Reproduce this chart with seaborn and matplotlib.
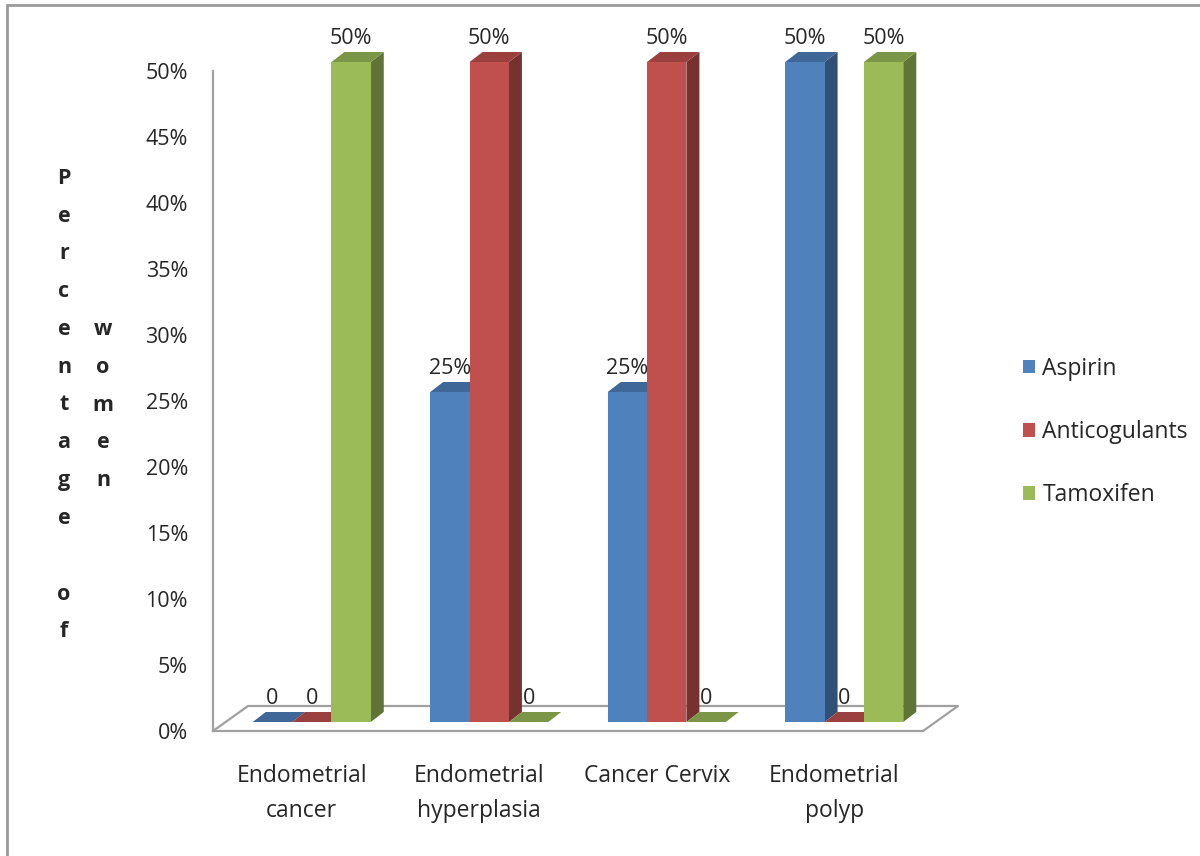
import matplotlib
matplotlib.use("Agg")
import matplotlib.pyplot as plt
import seaborn as sns
import pandas as pd
import numpy as np
import matplotlib.colors as mcolors
from matplotlib.patches import Polygon, Rectangle
from matplotlib.transforms import ScaledTranslation

categories = ["Endometrial\ncancer", "Endometrial\nhyperplasia", "Cancer Cervix", "Endometrial\npolyp"]
drugs = ["Aspirin", "Anticogulants", "Tamoxifen"]
aspirin = [0, 25, 25, 50]
anticogulants = [0, 50, 50, 0]
tamoxifen = [50, 0, 0, 50]
yticks = [0, 5, 10, 15, 20, 25, 30, 35, 40, 45, 50]
colors = ["#4F81BD", "#C0504D", "#9BBB59"]

df = pd.DataFrame({
    "category": categories * 3,
    "drug": np.repeat(drugs, len(categories)),
    "value": aspirin + anticogulants + tamoxifen,
})

sns.set_style("white")
plt.rcParams["font.family"] = ["Open Sans", "DejaVu Sans"]
FS = 15.5      # numbers
FS_TXT = 16.5  # words
GRAY = "#A0A0A0"

fig = plt.figure(figsize=(12, 8.56), dpi=100)
ax = fig.add_axes([213 / 1200, 1 - 731 / 856, (923 - 213) / 1200, (731 - 71) / 856])

sns.barplot(data=df, x="category", y="value", hue="drug", palette=colors,
            width=0.665, saturation=1, errorbar=None, legend=False,
            linewidth=0, ax=ax)
ax.set_xlim(-0.5, 3.5)
ax.set_ylim(0, 50)

# pixel -> data scale
p0 = ax.transData.transform((0, 0))
p1 = ax.transData.transform((1, 1))
sx, sy = p1[0] - p0[0], p1[1] - p0[1]

# bars sit a little inside the floor; 3d depth of each bar
shift = ScaledTranslation(10 / 100, 9 / 100, fig.dpi_scale_trans)
dx, dy = 13 / sx, 10 / sy
tr = ax.transData + shift


def shade(c, f):
    r, g, b = mcolors.to_rgb(c)
    return (r * f, g * f, b * f)


bars = sorted(ax.patches, key=lambda p: p.get_x())
for i, p in enumerate(bars):
    x0, w, h = p.get_x(), p.get_width(), p.get_height()
    c = p.get_facecolor()
    z = 3 + i * 0.01
    p.set_transform(tr)
    p.set_zorder(z)
    p.set_clip_on(False)
    side = Polygon([(x0 + w, 0), (x0 + w + dx, dy), (x0 + w + dx, h + dy), (x0 + w, h)],
                   closed=True, facecolor=shade(c, 0.62), edgecolor="none",
                   transform=tr, zorder=z - 0.001, clip_on=False)
    top = Polygon([(x0, h), (x0 + dx, h + dy), (x0 + w + dx, h + dy), (x0 + w, h)],
                  closed=True, facecolor=shade(c, 0.8), edgecolor="none",
                  transform=tr, zorder=z - 0.001, clip_on=False)
    ax.add_patch(side)
    ax.add_patch(top)
    lab = f"{h:.0f}%" if h > 0 else "0"
    ax.annotate(lab, (x0 + w / 2, h), xytext=(10 * 0.72, 33 * 0.72),
                textcoords="offset points", ha="center", va="center",
                fontsize=FS, zorder=10, annotation_clip=False)

# floor
fx, fy = 35 / sx, 25 / sy
ax.plot([-0.5, -0.5 + fx, 3.5 + fx, 3.5], [0, fy, fy, 0], color=GRAY, lw=1.6,
        clip_on=False, zorder=1.5)

sns.despine(ax=ax)
for s in ["left", "bottom"]:
    ax.spines[s].set_color(GRAY)
    ax.spines[s].set_linewidth(1.6)

ax.set_xlabel("")
ax.set_ylabel("")
ax.set_xticks(range(len(categories)))
ax.set_xticklabels(categories, fontsize=FS_TXT, linespacing=1.6)
ax.set_xticks(np.arange(-0.5, len(categories), 1), minor=True)
ax.tick_params(axis="x", which="major", length=0, pad=24)
ax.tick_params(axis="x", which="minor", length=6, width=1.6, color=GRAY, direction="out")
ax.set_yticks(yticks)
ax.set_yticklabels([f"{v}%" for v in yticks], fontsize=FS)
ax.tick_params(axis="y", length=6, width=1.6, color=GRAY, direction="out", pad=12)

# stacked y label
fig.text(64 / 1200, 1 - 405 / 856, "\n".join("Percentage") + "\n\n" + "\n".join("of"),
         ha="center", va="center", fontsize=FS, fontweight="bold", linespacing=2.05)
fig.text(103 / 1200, 1 - 405 / 856, "\n".join("women"),
         ha="center", va="center", fontsize=FS, fontweight="bold", linespacing=2.05)

handles = [Rectangle((0, 0), 1, 1, facecolor=c, edgecolor="none") for c in colors]
fig.legend(handles, drugs, loc="center left", bbox_to_anchor=(1002 / 1200, 1 - 432 / 856),
           frameon=False, fontsize=FS_TXT, handlelength=0.56, handleheight=0.56,
           handletextpad=0.3, labelspacing=1.72)

fig.add_artist(Rectangle((7 / 1200, -0.5), 2, 0.5 + 1 - 5 / 856, transform=fig.transFigure,
                         fill=False, edgecolor="#999999", lw=2))

fig.savefig("out.png", dpi=100)
